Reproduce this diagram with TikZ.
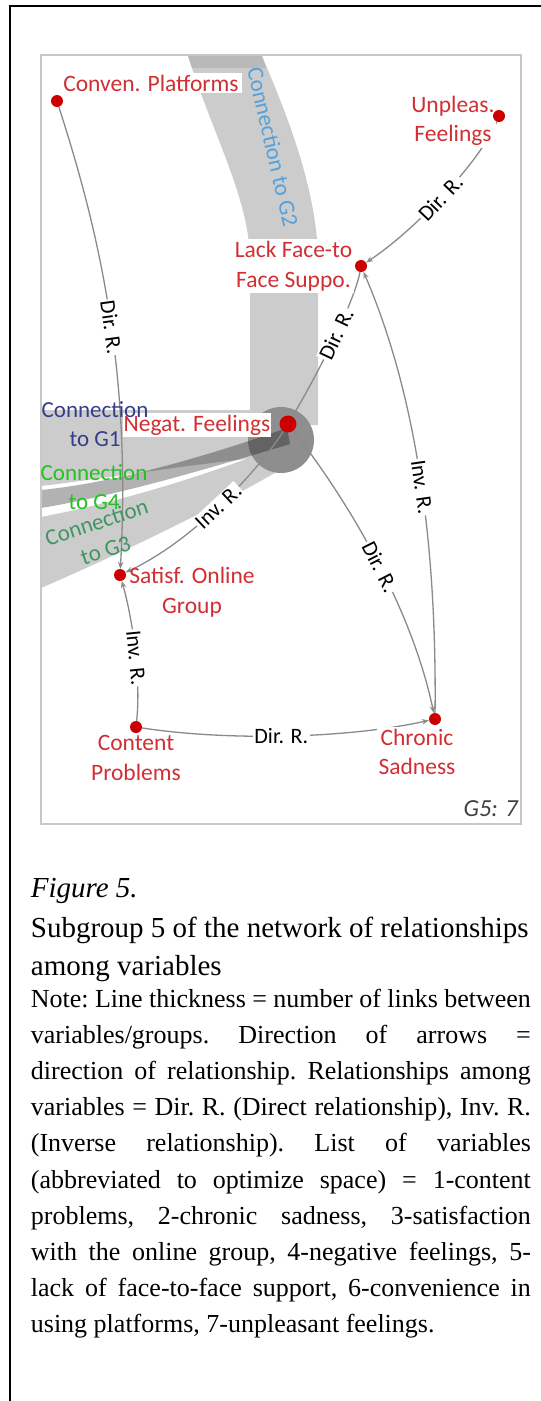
\documentclass[tikz,border=0pt]{standalone}
\usepackage{fontspec}
\setmainfont{Liberation Serif}
\newfontfamily\calib{Carlito}
\usetikzlibrary{arrows.meta}
\definecolor{dotred}{RGB}{204,0,0}
\definecolor{labred}{RGB}{208,48,52}
\definecolor{edgegray}{RGB}{138,138,138}
\definecolor{bandgray}{RGB}{204,204,204}
\definecolor{banddark}{RGB}{185,185,185}
\definecolor{hubgray}{RGB}{142,142,142}
\definecolor{framegray}{RGB}{200,200,200}
\definecolor{cOne}{RGB}{52,62,140}
\definecolor{cTwo}{RGB}{84,162,220}
\definecolor{cThree}{RGB}{64,150,96}
\definecolor{cFour}{RGB}{36,192,36}
\pgfdeclarelayer{bands}
\pgfdeclarelayer{links}
\pgfsetlayers{bands,links,main}
\begin{document}
\begin{tikzpicture}[x=1pt,y=-1pt,
  vdot/.style={circle,fill=dotred,draw=none,inner sep=0pt,minimum size=12pt},
  bigdot/.style={vdot,minimum size=17pt},
  vlab/.style={font=\calib\fontsize{23.5}{29.5}\selectfont,text=labred,align=center,fill=white,inner xsep=1.5pt,inner ysep=2pt},
  elab/.style={font=\calib\fontsize{22}{26}\selectfont,text=black,fill=white,inner sep=1.2pt},
  rel/.style={draw=edgegray,line width=1.3pt,-{Stealth[length=7pt,width=5.5pt]}},
  plainrel/.style={draw=edgegray,line width=1.3pt},
  conlab/.style={font=\calib\fontsize{23}{29}\selectfont,align=center,inner sep=0pt},
  capt/.style={anchor=base west,inner sep=0pt,font=\fontsize{29}{38}\selectfont},
  notel/.style={anchor=base west,inner sep=0pt,font=\fontsize{26}{36}\selectfont\frenchspacing}]
\useasboundingbox (0,0) rectangle (541,1401);

% ---------- bands ----------
\begin{pgfonlayer}{bands}
\fill[white] (0,0) rectangle (541,1401);
% connection to G2
\fill[bandgray] (188,56) .. controls (215,140) and (250,200) .. (250,262) -- (250,425)
  -- (318,425) -- (318,262) .. controls (318,190) and (285,110) .. (262,56) -- cycle;
\fill[banddark] (188,56) -- (262,56) -- (266,68) -- (192,68) -- cycle;
% connection to G1
\fill[bandgray] (41,410) -- (290,410) -- (290,455) .. controls (200,462) and (110,478) .. (41,486) -- cycle;
% connection to G3
\fill[bandgray] (41,517) .. controls (130,500) and (220,470) .. (275,448) -- (300,458)
  .. controls (240,495) and (140,545) .. (41,588) -- cycle;
% hub
\fill[hubgray] (281,440) circle (33);
% connection to G4
\fill[black,opacity=0.3] (41,490) .. controls (120,482) and (210,455) .. (287,428) -- (290,444)
  .. controls (210,468) and (120,495) .. (41,508) -- cycle;
\end{pgfonlayer}

% ---------- frames ----------
\draw[framegray,line width=2.5pt] (41,55) rectangle (521,824);
\draw[black,line width=2.6pt] (10,1401) -- (10,6) -- (541,6);

% ---------- variable labels ----------
\node[vlab,inner xsep=3pt] (convl) at (151,83) {Conven. Platforms};
\node[vlab] (unpl) at (453,121) {Unpleas.\\Feelings};
\node[vlab] (lackl) at (293.5,266) {Lack Face-to\\Face Suppo.};
\node[vlab,inner xsep=1pt] (negl) at (197,425) {Negat. Feelings};
\node[vlab,fill=none] (satl) at (192,592) {Satisf. Online\\Group};
\node[vlab] (contl) at (136,758) {Content\\Problems};
\node[vlab] (chrl) at (417,752) {Chronic\\Sadness};

% ---------- variable dots ----------
\node[vdot] (conv) at (57,101) {};
\node[vdot] (unp) at (499,116) {};
\node[vdot] (lack) at (361,266) {};
\node[bigdot] (neg) at (288,424) {};
\node[vdot] (sat) at (120,575) {};
\node[vdot] (cont) at (136,727) {};
\node[vdot] (chr) at (435,719) {};

% ---------- relationships ----------
\begin{pgfonlayer}{links}
\draw[rel] (conv) .. controls (95,220) and (132,360) .. node[elab,sloped,pos=0.555]{Dir. R.} (sat);
\draw[rel] (unp) .. controls (480,162) and (415,230) .. node[elab,sloped,pos=0.52]{Dir. R.} (lack);
\draw[plainrel] (neg) .. controls (320,370) and (355,300) .. node[elab,sloped,pos=0.52]{Dir. R.} (lack);
\draw[rel] (chr) .. controls (437,520) and (410,380) .. node[elab,sloped,pos=0.44]{Inv. R.} (lack);
\draw[rel] (neg) .. controls (340,490) and (410,600) .. node[elab,sloped,pos=0.55]{Dir. R.} (chr);
\draw[rel] (neg) .. controls (260,468) and (195,540) .. node[elab,sloped,pos=0.52]{Inv. R.} (sat);
\draw[rel] (cont) .. controls (141,680) and (133,620) .. node[elab,sloped,pos=0.45]{Inv. R.} (sat);
\draw[rel] (cont) .. controls (220,740) and (340,740) .. node[elab,pos=0.5]{Dir. R.} (chr);
\end{pgfonlayer}

% ---------- connection labels ----------
\node[conlab,text=cTwo,rotate=-77] (g2l) at (273,147) {Connection to G2};
\node[conlab,text=cOne] (g1l) at (95,424.5) {Connection\\to G1};
\node[conlab,text=cFour] (g4l) at (94,487.5) {Connection\\to G4};
\node[conlab,text=cThree,rotate=18] (g3l) at (101,536) {Connection\\to G3};
\node[font=\calib\itshape\fontsize{24.5}{26}\selectfont,text=black!75,anchor=east,inner sep=0pt] (gfive) at (518,809) {G5: 7};

% ---------- caption ----------
\node[capt,font=\fontsize{29}{38}\selectfont\itshape] (figno) at (30.7,897) {Figure 5.};
\node[capt] (t1) at (30.7,937) {Subgroup 5 of the network of relationships};
\node[capt] (t2) at (30.7,975) {among variables};

\node[notel] (n1) at (30.7,1007) {\hbox to 500pt{Note: Line thickness = number of links between}};
\node[notel] (n2) at (30.7,1043.2) {\hbox to 500pt{variables/groups. Direction of arrows =}};
\node[notel] (n3) at (30.7,1079.4) {\hbox to 500pt{direction of relationship. Relationships among}};
\node[notel] (n4) at (30.7,1115.6) {\hbox to 500pt{variables = Dir. R. (Direct relationship), Inv. R.}};
\node[notel] (n5) at (30.7,1151.8) {\hbox to 500pt{(Inverse relationship). List of variables}};
\node[notel] (n6) at (30.7,1188) {\hbox to 500pt{(abbreviated to optimize space) = 1-content}};
\node[notel] (n7) at (30.7,1224.2) {\hbox to 500pt{problems, 2-chronic sadness, 3-satisfaction}};
\node[notel] (n8) at (30.7,1260.4) {\hbox to 500pt{with the online group, 4-negative feelings, 5-}};
\node[notel] (n9) at (30.7,1296.6) {\hbox to 500pt{lack of face-to-face support, 6-convenience in}};
\node[notel] (n10) at (30.7,1332.8) {using platforms, 7-unpleasant feelings.};
\end{tikzpicture}
\end{document}
